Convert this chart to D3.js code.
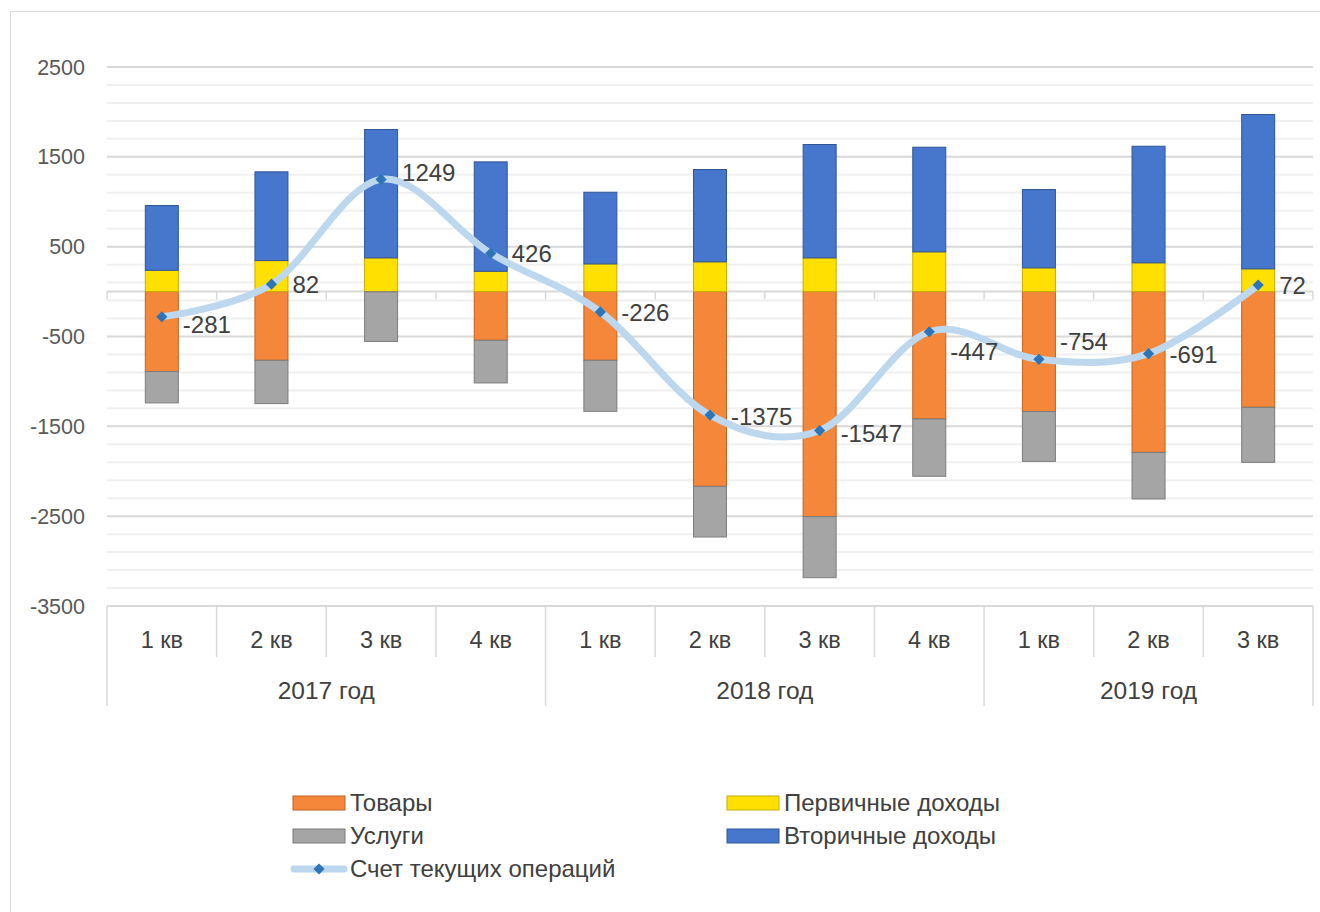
<!DOCTYPE html>
<html>
<head>
<meta charset="utf-8">
<script src="https://cdn.jsdelivr.net/npm/d3@7"></script>
<style>
  body { margin: 0; background: #fff; }
  svg text { font-family: "Liberation Sans", Arial, sans-serif; }
</style>
</head>
<body>
<div id="chart"></div>
<script>
// Quarters and years for the two-level category axis
const quarters = ["1 кв", "2 кв", "3 кв", "4 кв", "1 кв", "2 кв", "3 кв", "4 кв", "1 кв", "2 кв", "3 кв"];
const years = ["2017 год", "2018 год", "2019 год"];
const quartersPerYear = [4, 4, 3];

// Series values
const goods = [-890, -765, -2, -542, -765, -2168, -2505, -1418, -1335, -1790, -1288];
const primaryIncome = [237, 345, 375, 226, 308, 331, 375, 442, 264, 320, 253];
const services = [-349, -482, -553, -475, -568, -564, -680, -638, -555, -519, -613];
const secondaryIncome = [721, 988, 1429, 1218, 798, 1028, 1262, 1165, 872, 1298, 1718];
const currentAccount = [-281, 82, 1249, 426, -226, -1375, -1547, -447, -754, -691, 72];

const yTicks = [2500, 1500, 500, -500, -1500, -2500, -3500];

// manual nudges of a few data labels (px), as in the original
const labelDy = [8, 0, -7, 0, 1, 1, 3, 20, -18, 1, 0];

const width = 1320;
const height = 912;
const svg = d3.select("#chart").append("svg")
    .attr("width", width)
    .attr("height", height);

// outer chart frame
svg.append("rect")
    .attr("x", 10.5).attr("y", 11.5)
    .attr("width", 1400).attr("height", 1000)
    .attr("fill", "none")
    .attr("stroke", "#d9d9d9");

const plotLeft = 107, plotRight = 1313, plotTop = 67, plotBottom = 606;

const x = d3.scaleBand()
    .domain(d3.range(quarters.length))
    .range([plotLeft, plotRight])
    .paddingInner(0);

const y = d3.scaleLinear()
    .domain([-3500, 2500])
    .range([plotBottom, plotTop]);

// minor and major gridlines
const minor = d3.range(-3500, 2501, 200).filter(v => !yTicks.includes(v));
svg.append("g").selectAll("line")
    .data(minor)
    .enter().append("line")
    .attr("x1", plotLeft).attr("x2", plotRight)
    .attr("y1", d => y(d)).attr("y2", d => y(d))
    .attr("stroke", "#f0f0f0")
    .attr("stroke-width", 2);
svg.append("g").selectAll("line")
    .data(yTicks)
    .enter().append("line")
    .attr("x1", plotLeft).attr("x2", plotRight)
    .attr("y1", d => y(d)).attr("y2", d => y(d))
    .attr("stroke", "#d9d9d9")
    .attr("stroke-width", 2);

// y tick labels
svg.append("g").selectAll("text")
    .data(yTicks)
    .enter().append("text")
    .attr("x", 85)
    .attr("y", d => y(d))
    .attr("dy", "0.35em")
    .attr("text-anchor", "end")
    .attr("font-size", 21.5)
    .attr("fill", "#595959")
    .text(d => d);

// zero axis line with tick marks
svg.append("line")
    .attr("x1", plotLeft).attr("x2", plotRight)
    .attr("y1", y(0)).attr("y2", y(0))
    .attr("stroke", "#d9d9d9").attr("stroke-width", 2);
svg.append("g").selectAll("line")
    .data(d3.range(quarters.length + 1))
    .enter().append("line")
    .attr("x1", i => plotLeft + i * x.bandwidth())
    .attr("x2", i => plotLeft + i * x.bandwidth())
    .attr("y1", y(0)).attr("y2", y(0) + 8)
    .attr("stroke", "#d9d9d9").attr("stroke-width", 1.5);

// stacked bars
const rows = quarters.map((q, i) => ({
    goods: goods[i], primary: primaryIncome[i], services: services[i], secondary: secondaryIncome[i]
}));
const keys = ["goods", "primary", "services", "secondary"];
const colors = { goods: "#f4873a", primary: "#ffe000", services: "#a5a5a5", secondary: "#4677cc" };
const edges = { goods: "#c2621f", primary: "#c9ad00", services: "#7c7c7c", secondary: "#2f5597" };
const stacked = d3.stack().keys(keys).offset(d3.stackOffsetDiverging)(rows);
const barW = 33;

svg.append("g").selectAll("g")
    .data(stacked)
    .enter().append("g")
    .each(function (s) {
        d3.select(this).selectAll("rect")
            .data(s)
            .enter().append("rect")
            .attr("x", (d, i) => x(i) + x.bandwidth() / 2 - barW / 2)
            .attr("y", d => y(Math.max(d[0], d[1])))
            .attr("width", barW)
            .attr("height", d => Math.abs(y(d[0]) - y(d[1])))
            .attr("fill", colors[s.key])
            .attr("stroke", edges[s.key])
            .attr("stroke-width", 1);
    });

// current account line
const cx = i => x(i) + x.bandwidth() / 2;
const line = d3.line()
    .x((d, i) => cx(i))
    .y(d => y(d))
    .curve(d3.curveCardinal.tension(0));
svg.append("path")
    .datum(currentAccount)
    .attr("d", line)
    .attr("fill", "none")
    .attr("stroke", "#bdd7ee")
    .attr("stroke-width", 7)
    .attr("stroke-linecap", "round");

const diamond = d3.symbol().type(d3.symbolDiamond2).size(80);
svg.append("g").selectAll("path")
    .data(currentAccount)
    .enter().append("path")
    .attr("d", diamond)
    .attr("transform", (d, i) => `translate(${cx(i)},${y(d)})`)
    .attr("fill", "#2e75b6");

svg.append("g").selectAll("text")
    .data(currentAccount)
    .enter().append("text")
    .attr("x", (d, i) => cx(i) + 21)
    .attr("y", (d, i) => y(d) + labelDy[i])
    .attr("dy", "0.35em")
    .attr("font-size", 24)
    .attr("fill", "#404040")
    .text(d => d);

// two-level category axis
const axisG = svg.append("g");
let start = 0;
const yearBounds = [0];
quartersPerYear.forEach(n => { start += n; yearBounds.push(start); });
d3.range(quarters.length + 1).forEach(i => {
    const isYear = yearBounds.includes(i);
    axisG.append("line")
        .attr("x1", plotLeft + i * x.bandwidth()).attr("x2", plotLeft + i * x.bandwidth())
        .attr("y1", plotBottom).attr("y2", isYear ? 706 : 657)
        .attr("stroke", "#d9d9d9").attr("stroke-width", 1.5);
});
axisG.selectAll("text.q")
    .data(quarters)
    .enter().append("text")
    .attr("class", "q")
    .attr("x", (d, i) => cx(i))
    .attr("y", 640)
    .attr("dy", "0.35em")
    .attr("text-anchor", "middle")
    .attr("font-size", 23.5)
    .attr("fill", "#404040")
    .text(d => d);
axisG.selectAll("text.yr")
    .data(years)
    .enter().append("text")
    .attr("class", "yr")
    .attr("x", (d, i) => plotLeft + (yearBounds[i] + yearBounds[i + 1]) / 2 * x.bandwidth())
    .attr("y", 690)
    .attr("dy", "0.35em")
    .attr("text-anchor", "middle")
    .attr("font-size", 24.5)
    .attr("fill", "#404040")
    .text(d => d);

// legend
const legendItems = [
    { key: "goods", label: "Товары", x: 293, y: 803 },
    { key: "primary", label: "Первичные доходы", x: 727, y: 803 },
    { key: "services", label: "Услуги", x: 293, y: 836 },
    { key: "secondary", label: "Вторичные доходы", x: 727, y: 836 }
];
const legend = svg.append("g");
legendItems.forEach(it => {
    legend.append("rect")
        .attr("x", it.x).attr("y", it.y - 7)
        .attr("width", 52).attr("height", 14)
        .attr("fill", colors[it.key])
        .attr("stroke", edges[it.key]);
    legend.append("text")
        .attr("x", it.x + 57).attr("y", it.y)
        .attr("dy", "0.35em")
        .attr("font-size", 24)
        .attr("fill", "#404040")
        .text(it.label);
});
legend.append("line")
    .attr("x1", 294).attr("x2", 344)
    .attr("y1", 869).attr("y2", 869)
    .attr("stroke", "#bdd7ee").attr("stroke-width", 7)
    .attr("stroke-linecap", "round");
legend.append("path")
    .attr("d", diamond)
    .attr("transform", "translate(319,869)")
    .attr("fill", "#2e75b6");
legend.append("text")
    .attr("x", 350).attr("y", 869)
    .attr("dy", "0.35em")
    .attr("font-size", 24)
    .attr("fill", "#404040")
    .text("Счет текущих операций");
</script>
</body>
</html>
